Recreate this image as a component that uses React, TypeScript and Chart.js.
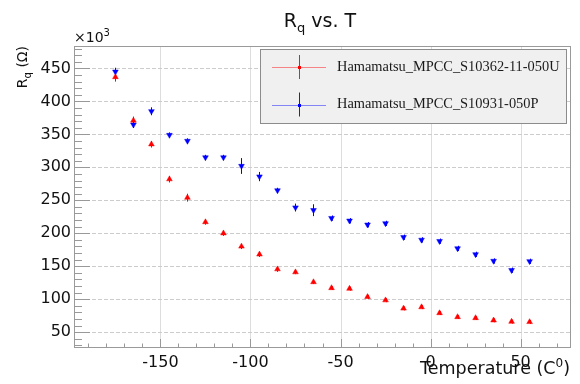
import React, { useEffect, useRef } from 'react';
import { Chart, registerables } from 'chart.js';

Chart.register(...registerables);

// ---- data (values in units of 10^3 Ohm) ----
const temperatures = [-175, -165, -155, -145, -135, -125, -115, -105, -95, -85, -75, -65, -55, -45, -35, -25, -15, -5, 5, 15, 25, 35, 45, 55];
const rqS10362 = [437, 371, 335, 282, 254, 217, 200, 180, 168, 145.5, 141, 126, 117, 116, 103.5, 98.5, 86, 88, 79, 73, 71.5, 68, 66, 65.5];
const rqS10362Err = [7, 6, 5, 5, 6, 4, 4, 4, 4, 4, 3, 3, 3, 3, 3, 3, 3, 3, 3, 3, 3, 3, 3, 3];
const rqS10931 = [445, 364.6, 385, 349, 340, 315, 315, 302, 286, 265, 239, 235, 223, 219, 213, 215, 194, 190, 188, 177, 168, 158, 144, 157.5];
const rqS10931Err = [6, 5, 6, 4, 4, 4, 4, 12, 7, 4, 6, 9, 4, 4, 4, 4, 4, 4, 4, 4, 4, 4, 4, 4];
const seriesLabels = ['Hamamatsu_MPCC_S10362-11-050U', 'Hamamatsu_MPCC_S10931-050P'];
const seriesColors = ['#ff0000', '#0000ff'];
const xTickLabels = [-150, -100, -50, 0, 50];
const yTickLabels = [50, 100, 150, 200, 250, 300, 350, 400, 450];

const SANS = '"DejaVu Sans", sans-serif';

type Part = { t: string; size: number; dy: number };

function partsWidth(ctx: CanvasRenderingContext2D, parts: Part[]) {
  let w = 0;
  for (const p of parts) {
    ctx.font = `${p.size}px ${SANS}`;
    w += ctx.measureText(p.t).width;
  }
  return w;
}

function drawParts(ctx: CanvasRenderingContext2D, parts: Part[], x: number, y: number) {
  let cx = x;
  ctx.textBaseline = 'alphabetic';
  ctx.textAlign = 'left';
  for (const p of parts) {
    ctx.font = `${p.size}px ${SANS}`;
    ctx.fillText(p.t, cx, y + p.dy);
    cx += ctx.measureText(p.t).width;
  }
}

const rootPlugin = {
  id: 'rootStyle',
  beforeDatasetsDraw(chart: any) {
    const { ctx, chartArea: a, scales } = chart;
    const xs = scales.x, ys = scales.y;
    ctx.save();
    // grid
    ctx.lineWidth = 1;
    ctx.strokeStyle = '#dddddd';
    for (const v of xTickLabels) {
      const px = Math.round(xs.getPixelForValue(v)) + 0.5;
      ctx.beginPath();
      ctx.moveTo(px, a.top);
      ctx.lineTo(px, a.bottom);
      ctx.stroke();
    }
    ctx.strokeStyle = '#cccccc';
    ctx.setLineDash([4, 2]);
    for (const v of yTickLabels) {
      const py = Math.round(ys.getPixelForValue(v)) + 0.5;
      ctx.beginPath();
      ctx.moveTo(a.left, py);
      ctx.lineTo(a.right, py);
      ctx.stroke();
    }
    ctx.setLineDash([]);
    // error bars
    const errs = [rqS10362Err, rqS10931Err];
    chart.data.datasets.forEach((ds: any, di: number) => {
      ctx.strokeStyle = seriesColors[di];
      ctx.lineWidth = 1;
      ds.data.forEach((pt: any, i: number) => {
        const px = Math.round(xs.getPixelForValue(pt.x)) + 0.5;
        const y1 = ys.getPixelForValue(pt.y - errs[di][i]);
        const y2 = ys.getPixelForValue(pt.y + errs[di][i]);
        ctx.beginPath();
        ctx.moveTo(px, y1);
        ctx.lineTo(px, y2);
        ctx.stroke();
      });
    });
    ctx.restore();
  },
  afterDraw(chart: any) {
    const { ctx, chartArea: a, scales } = chart;
    const xs = scales.x, ys = scales.y;
    ctx.save();
    // frame
    ctx.strokeStyle = '#9a9a9a';
    ctx.lineWidth = 1;
    ctx.strokeRect(Math.round(a.left) + 0.5, Math.round(a.top) + 0.5, Math.round(a.right - a.left) - 1, Math.round(a.bottom - a.top) - 1);
    // ticks
    ctx.strokeStyle = '#999999';
    for (const t of ys.ticks) {
      const major = yTickLabels.includes(t.value);
      const py = Math.round(ys.getPixelForValue(t.value)) + 0.5;
      ctx.beginPath();
      ctx.moveTo(a.left, py);
      ctx.lineTo(a.left + (major ? 16 : 8), py);
      ctx.stroke();
    }
    for (const t of xs.ticks) {
      const major = xTickLabels.includes(t.value);
      const px = Math.round(xs.getPixelForValue(t.value)) + 0.5;
      ctx.beginPath();
      ctx.moveTo(px, a.bottom);
      ctx.lineTo(px, a.bottom - (major ? 9 : 4.5));
      ctx.stroke();
    }
    ctx.fillStyle = '#111111';
    // title
    const title: Part[] = [
      { t: 'R', size: 19, dy: 0 },
      { t: 'q', size: 13, dy: 5 },
      { t: ' vs. T', size: 19, dy: 0 },
    ];
    const tw = partsWidth(ctx, title);
    drawParts(ctx, title, 320 - tw / 2, 27);
    // x10^3
    drawParts(ctx, [
      { t: '\u00d710', size: 14, dy: 0 },
      { t: '3', size: 10, dy: -6 },
    ], 74, 42);
    // x axis title
    const xt: Part[] = [
      { t: 'Temperature (C', size: 17.5, dy: 0 },
      { t: '0', size: 12, dy: -7 },
      { t: ')', size: 17.5, dy: 0 },
    ];
    const xw = partsWidth(ctx, xt);
    drawParts(ctx, xt, 570 - xw, 374);
    // y axis title
    const yt: Part[] = [
      { t: 'R', size: 14, dy: 0 },
      { t: 'q', size: 10, dy: 4 },
      { t: ' (\u03a9)', size: 14, dy: 0 },
    ];
    const yw = partsWidth(ctx, yt);
    ctx.save();
    ctx.translate(27, 46);
    ctx.rotate(-Math.PI / 2);
    drawParts(ctx, yt, -yw, 0);
    ctx.restore();
    // legend
    const lx = 260, ly = 49, lw = 307, lh = 75;
    ctx.fillStyle = '#f0f0f0';
    ctx.fillRect(lx, ly, lw, lh);
    ctx.strokeStyle = '#8c8c8c';
    ctx.strokeRect(lx + 0.5, ly + 0.5, lw - 1, lh - 1);
    const rows = [67, 104.5];
    seriesLabels.forEach((lab, i) => {
      const y = rows[i];
      const col = seriesColors[i];
      ctx.globalAlpha = 0.45;
      ctx.strokeStyle = col;
      ctx.beginPath();
      ctx.moveTo(272, Math.round(y) + 0.5);
      ctx.lineTo(326, Math.round(y) + 0.5);
      ctx.stroke();
      ctx.globalAlpha = 0.9;
      ctx.beginPath();
      ctx.moveTo(299.5, y - 12);
      ctx.lineTo(299.5, y + 12);
      ctx.stroke();
      ctx.globalAlpha = 1;
      ctx.fillStyle = col;
      ctx.fillRect(298, Math.round(y) - 1, 3, 3);
      ctx.fillStyle = '#1a1a1a';
      ctx.font = '14.4px "Liberation Serif", serif';
      ctx.textBaseline = 'middle';
      ctx.textAlign = 'left';
      ctx.fillText(lab, 337, y);
    });
    ctx.restore();
  },
};

export default function App() {
  const ref = useRef<HTMLCanvasElement | null>(null);
  useEffect(() => {
    if (!ref.current) return;
    const mk = (vals: number[]) => temperatures.map((t, i) => ({ x: t, y: vals[i] }));
    const chart = new Chart(ref.current, {
      type: 'scatter',
      data: {
        datasets: [
          {
            label: seriesLabels[0],
            data: mk(rqS10362),
            pointStyle: 'triangle',
            pointRadius: 3.3,
            pointBorderWidth: 0.5,
            backgroundColor: seriesColors[0],
            borderColor: seriesColors[0],
          },
          {
            label: seriesLabels[1],
            data: mk(rqS10931),
            pointStyle: 'triangle',
            rotation: 180,
            pointRadius: 3.3,
            pointBorderWidth: 0.5,
            backgroundColor: seriesColors[1],
            borderColor: seriesColors[1],
          },
        ],
      },
      options: {
        responsive: false,
        animation: false,
        devicePixelRatio: 1,
        layout: { padding: { left: 0, right: 9, top: 46, bottom: 0 } },
        plugins: { legend: { display: false }, tooltip: { enabled: false }, title: { display: false } },
        scales: {
          x: {
            type: 'linear',
            min: -198,
            max: 78,
            grid: { display: false, drawTicks: false },
            border: { display: false },
            afterFit: (s: any) => { s.height = 36; },
            ticks: {
              stepSize: 10,
              includeBounds: false,
              autoSkip: false,
              maxRotation: 0,
              minRotation: 0,
              padding: 5,
              color: '#111',
              font: { family: SANS, size: 16 },
              callback: (v: any) => (xTickLabels.includes(Number(v)) ? String(v) : ''),
            },
          },
          y: {
            type: 'linear',
            min: 26,
            max: 484,
            grid: { display: false, drawTicks: false },
            border: { display: false },
            afterFit: (s: any) => { s.width = 74; },
            ticks: {
              stepSize: 10,
              includeBounds: false,
              autoSkip: false,
              padding: 3,
              color: '#111',
              font: { family: SANS, size: 16 },
              callback: (v: any) => (yTickLabels.includes(Number(v)) ? String(v) : ''),
            },
          },
        },
      },
      plugins: [rootPlugin],
    } as any);
    return () => chart.destroy();
  }, []);
  return (
    <div style={{ position: 'fixed', left: 0, top: 0, width: 580, height: 384, background: '#fff' }}>
      <canvas ref={ref} width={580} height={384} style={{ display: 'block' }} />
    </div>
  );
}
